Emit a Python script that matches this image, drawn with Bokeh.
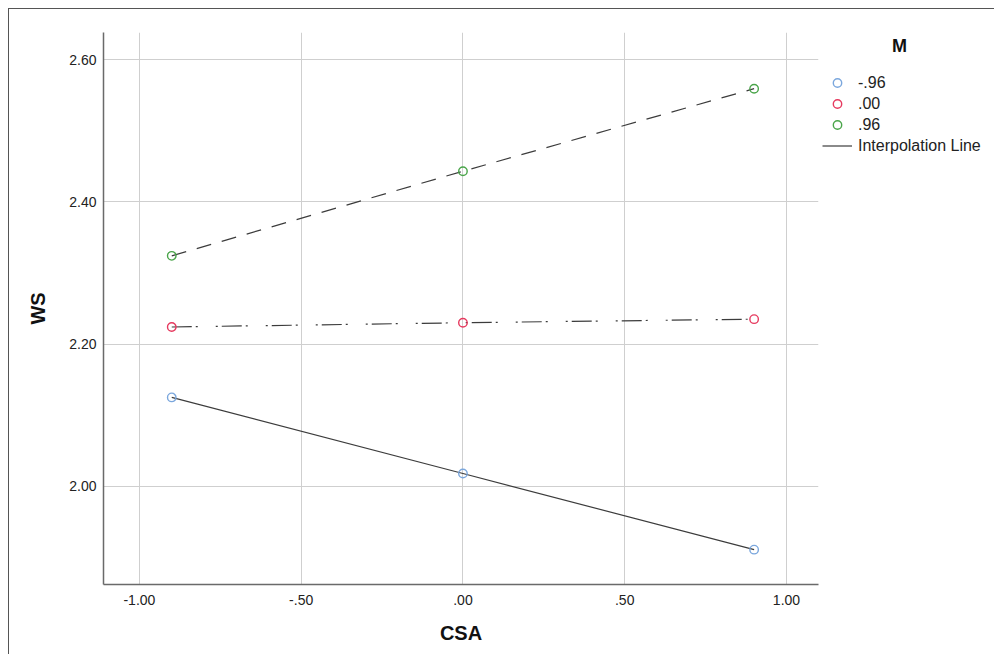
from bokeh.plotting import figure
from bokeh.models import Legend, LegendItem, FixedTicker, Range1d
from bokeh.embed import file_html
from bokeh.resources import INLINE

# ---- data ----
csa = [-0.9, 0.0, 0.9]
ws_m_low = [2.125, 2.018, 1.911]    # M = -.96
ws_m_mid = [2.224, 2.230, 2.235]    # M = .00
ws_m_high = [2.324, 2.443, 2.559]   # M = .96
series_labels = ["-.96", ".00", ".96"]

x_ticks = [-1.0, -0.5, 0.0, 0.5, 1.0]
x_tick_labels = ["-1.00", "-.50", ".00", ".50", "1.00"]
y_ticks = [2.0, 2.2, 2.4, 2.6]
y_tick_labels = ["2.00", "2.20", "2.40", "2.60"]

FONT = "Liberation Sans"
marker_colors = ["#7ba7dd", "#e63a5f", "#4aa54a"]
line_dashes = ["solid", "20 4 2 18 2 4", "15 11"]

p = figure(frame_width=715, frame_height=552, output_backend="svg", toolbar_location=None,
           x_range=Range1d(-1.111, 1.099), y_range=Range1d(1.862, 2.638),
           min_border_left=94, min_border_top=23, min_border_bottom=70,
           min_border_right=0,
           styles={"margin-left": "8px", "margin-top": "8px",
                   "border-left": "1px solid #555555", "border-top": "1px solid #555555"})
p.outline_line_color = None
p.background_fill_color = "white"
p.border_fill_color = "white"

series = [ws_m_low, ws_m_mid, ws_m_high]
scatter_renderers = []
line_renderers = []
for ys, col, dash in zip(series, marker_colors, line_dashes):
    lr = p.line(csa, ys, line_color="#3c3c3c", line_width=1.2, line_dash=dash)
    sr = p.scatter(csa, ys, marker="circle", size=8.5, fill_color=None,
                   line_color=col, line_width=1.4)
    line_renderers.append(lr)
    scatter_renderers.append(sr)

# axes
p.xaxis.ticker = FixedTicker(ticks=x_ticks)
p.yaxis.ticker = FixedTicker(ticks=y_ticks)
p.xaxis.major_label_overrides = dict(zip(x_ticks, x_tick_labels))
p.yaxis.major_label_overrides = dict(zip(y_ticks, y_tick_labels))
for ax in (p.xaxis, p.yaxis):
    ax.axis_line_color = "#6a6a6a"
    ax.axis_line_width = 1.5
    ax.major_tick_in = 0
    ax.major_tick_out = 0
    ax.minor_tick_line_color = None
    ax.major_label_text_font = FONT
    ax.major_label_text_font_size = "14px"
    ax.major_label_text_color = "#222222"
    ax.axis_label_text_font = FONT
    ax.axis_label_text_font_size = "20px"
    ax.axis_label_text_font_style = "bold"
    ax.axis_label_text_color = "#111111"
p.xaxis.axis_label = "CSA"
p.yaxis.axis_label = "WS"
p.xaxis.major_label_standoff = 10
p.yaxis.major_label_standoff = 7
p.xaxis.axis_label_standoff = 14
p.yaxis.axis_label_standoff = 17

p.xgrid.ticker = FixedTicker(ticks=x_ticks)
p.ygrid.ticker = FixedTicker(ticks=y_ticks)
p.grid.grid_line_color = "#cfcfcf"
p.grid.grid_line_width = 1

items = [LegendItem(label=lab, renderers=[r]) for lab, r in zip(series_labels, scatter_renderers)]
items.append(LegendItem(label="Interpolation Line", renderers=[line_renderers[0]]))
legend = Legend(items=items, location="top_left", margin=4, padding=0,
                spacing=0, glyph_width=30, glyph_height=21, label_standoff=6,
                label_text_font=FONT, label_text_font_size="16px", label_text_color="#222222",
                title="\u00a0" * 14 + "M", title_text_font=FONT, title_text_font_size="18px",
                title_text_font_style="bold", title_text_color="#111111", title_standoff=15,
                border_line_color=None, background_fill_alpha=0)
p.add_layout(legend, "right")

open("out.html", "w").write(file_html(p, INLINE))
